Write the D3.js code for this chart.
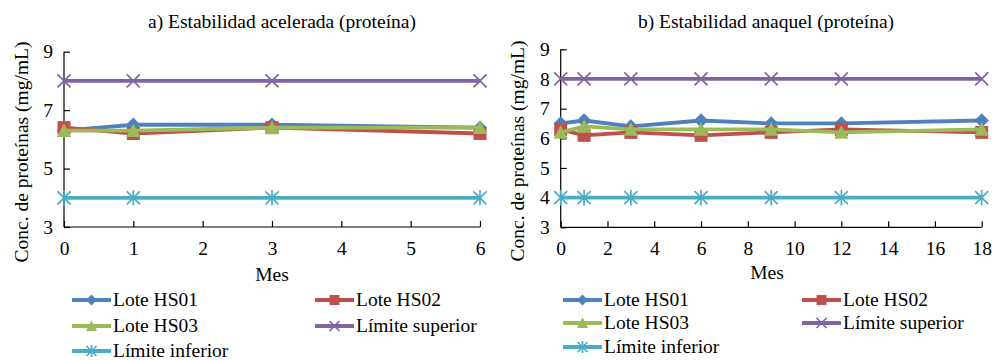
<!DOCTYPE html>
<html>
<head>
<meta charset="utf-8">
<script src="https://cdn.jsdelivr.net/npm/d3@7/dist/d3.min.js"></script>
<style>
  html, body { margin: 0; padding: 0; background: #fff; }
  svg { display: block; }
</style>
</head>
<body>
<svg id="chart" width="992" height="360"></svg>
<script>
// Panel a: accelerated stability
const monthsA = [0, 1, 3, 6];
const hs01A = [6.3, 6.5, 6.5, 6.4];
const hs02A = [6.4, 6.2, 6.4, 6.2];
const hs03A = [6.3, 6.3, 6.4, 6.4];
const upperA = [8, 8, 8, 8];
const lowerA = [4, 4, 4, 4];
const xTicksA = [0, 1, 2, 3, 4, 5, 6];
const yTicksA = [3, 5, 7, 9];

// Panel b: shelf stability
const monthsB = [0, 1, 3, 6, 9, 12, 18];
const hs01B = [6.5, 6.6, 6.4, 6.6, 6.5, 6.5, 6.6];
const hs02B = [6.3, 6.1, 6.2, 6.1, 6.2, 6.3, 6.2];
const hs03B = [6.2, 6.4, 6.3, 6.3, 6.3, 6.2, 6.3];
const upperB = [8, 8, 8, 8, 8, 8, 8];
const lowerB = [4, 4, 4, 4, 4, 4, 4];
const xTicksB = [0, 2, 4, 6, 8, 10, 12, 14, 16, 18];
const yTicksB = [3, 4, 5, 6, 7, 8, 9];

const seriesNames = ["Lote HS01", "Lote HS02", "Lote HS03", "Límite superior", "Límite inferior"];
const seriesColors = ["#4F81BD", "#C0504D", "#9BBB59", "#8064A2", "#4BACC6"];
const seriesMarkers = ["diamond", "square", "triangle", "x", "star"];

const FONT = "'Liberation Serif', 'Tinos', 'Times New Roman'";
const svg = d3.select("#chart");

function styleText(sel, size) {
  return sel.style("font-family", FONT).style("font-size", size + "px").style("fill", "#000");
}

function drawMarker(g, type, color, s) {
  // s = half size of marker
  if (type === "diamond") {
    const d = s * 1.1;
    g.append("path").attr("d", `M0,${-d}L${d},0L0,${d}L${-d},0Z`).attr("fill", color);
  } else if (type === "square") {
    g.append("rect").attr("x", -s).attr("y", -s).attr("width", 2 * s).attr("height", 2 * s).attr("fill", color);
  } else if (type === "triangle") {
    const d = s * 1.1;
    g.append("path").attr("d", `M0,${-d}L${d},${d * 0.9}L${-d},${d * 0.9}Z`).attr("fill", color);
  } else if (type === "x") {
    g.append("path").attr("d", `M${-s},${-s}L${s},${s}M${-s},${s}L${s},${-s}`)
      .attr("stroke", color).attr("stroke-width", 1.7).attr("fill", "none");
  } else if (type === "star") {
    g.append("path").attr("d", `M${-s},${-s}L${s},${s}M${-s},${s}L${s},${-s}M0,${-s * 1.2}L0,${s * 1.2}`)
      .attr("stroke", color).attr("stroke-width", 1.7).attr("fill", "none");
  }
}

function drawPanel(cfg) {
  const x = d3.scaleLinear().domain(cfg.xDomain).range([cfg.left, cfg.right]);
  const y = d3.scaleLinear().domain([3, 9]).range([cfg.bottom, cfg.top]);
  const g = svg.append("g");

  // axes with inward ticks
  const yAxis = g.append("g").attr("transform", `translate(${cfg.left},0)`)
    .call(d3.axisLeft(y).tickValues(cfg.yTicks).tickSize(-6).tickPadding(11).tickFormat(d3.format("d")));
  const xAxis = g.append("g").attr("transform", `translate(0,${cfg.bottom})`)
    .call(d3.axisBottom(x).tickValues(cfg.xTicks).tickSize(-6).tickPadding(14).tickFormat(d3.format("d")));
  [yAxis, xAxis].forEach(a => {
    a.attr("font-family", null).attr("font-size", null);
    a.select(".domain").attr("stroke", "#000").attr("stroke-width", 1.2);
    a.selectAll(".tick line").attr("stroke", "#000").attr("stroke-width", 1.2);
    styleText(a.selectAll(".tick text"), 19.5);
  });
  xAxis.select(".domain").attr("d", `M${cfg.left},0H${cfg.right}`);
  yAxis.select(".domain").attr("d", `M0,${cfg.bottom}V${cfg.top}`);
  xAxis.selectAll(".tick text").attr("dy", "0.71em");

  const line = d3.line().x((d, i) => x(cfg.months[i])).y(d => y(d));
  cfg.series.forEach((vals, k) => {
    g.append("path").datum(vals).attr("d", line)
      .attr("fill", "none").attr("stroke", seriesColors[k]).attr("stroke-width", 3.8)
      .attr("stroke-linejoin", "round");
    vals.forEach((v, i) => {
      const m = g.append("g").attr("transform", `translate(${x(cfg.months[i])},${y(v)})`);
      drawMarker(m, seriesMarkers[k], seriesColors[k], 6.5);
    });
  });

  // titles
  styleText(g.append("text"), 19.5).attr("x", cfg.titleX).attr("y", 28).attr("text-anchor", "middle")
    .text(cfg.title);
  styleText(g.append("text"), 19.5).attr("x", cfg.mesX).attr("y", cfg.mesY)
    .attr("text-anchor", "middle").text("Mes");
  styleText(g.append("text"), 19.5)
    .attr("transform", `translate(${cfg.yLabelX},${cfg.yLabelY}) rotate(-90)`)
    .attr("text-anchor", "middle").text("Conc. de proteínas (mg/mL)");

  // legend
  cfg.legend.forEach((p, k) => {
    const lg = g.append("g").attr("transform", `translate(${p[0]},${p[1]})`);
    lg.append("line").attr("x1", 0).attr("x2", 39).attr("y1", 0).attr("y2", 0)
      .attr("stroke", seriesColors[k]).attr("stroke-width", 3.8);
    const m = lg.append("g").attr("transform", "translate(19.5,0)");
    drawMarker(m, seriesMarkers[k], seriesColors[k], 5);
    styleText(lg.append("text"), 19.5).attr("x", 41).attr("y", 0).attr("dy", "0.33em")
      .text(seriesNames[k]);
  });
}

drawPanel({
  months: monthsA,
  series: [hs01A, hs02A, hs03A, upperA, lowerA],
  xDomain: [0, 6], xTicks: xTicksA, yTicks: yTicksA,
  left: 64, right: 480, top: 51.7, bottom: 227,
  title: "a) Estabilidad acelerada (proteína)", titleX: 282,
  mesX: 272, mesY: 281,
  yLabelX: 28, yLabelY: 152,
  legend: [[72, 300], [315, 300], [72, 326], [315, 326], [72, 351]]
});

drawPanel({
  months: monthsB,
  series: [hs01B, hs02B, hs03B, upperB, lowerB],
  xDomain: [0, 18], xTicks: xTicksB, yTicks: yTicksB,
  left: 560.7, right: 981.7, top: 49.3, bottom: 227.3,
  title: "b) Estabilidad anaquel (proteína)", titleX: 766,
  mesX: 767, mesY: 279,
  yLabelX: 524, yLabelY: 151,
  legend: [[563, 300], [802, 300], [563, 323], [802, 323], [563, 347]]
});
</script>
</body>
</html>
